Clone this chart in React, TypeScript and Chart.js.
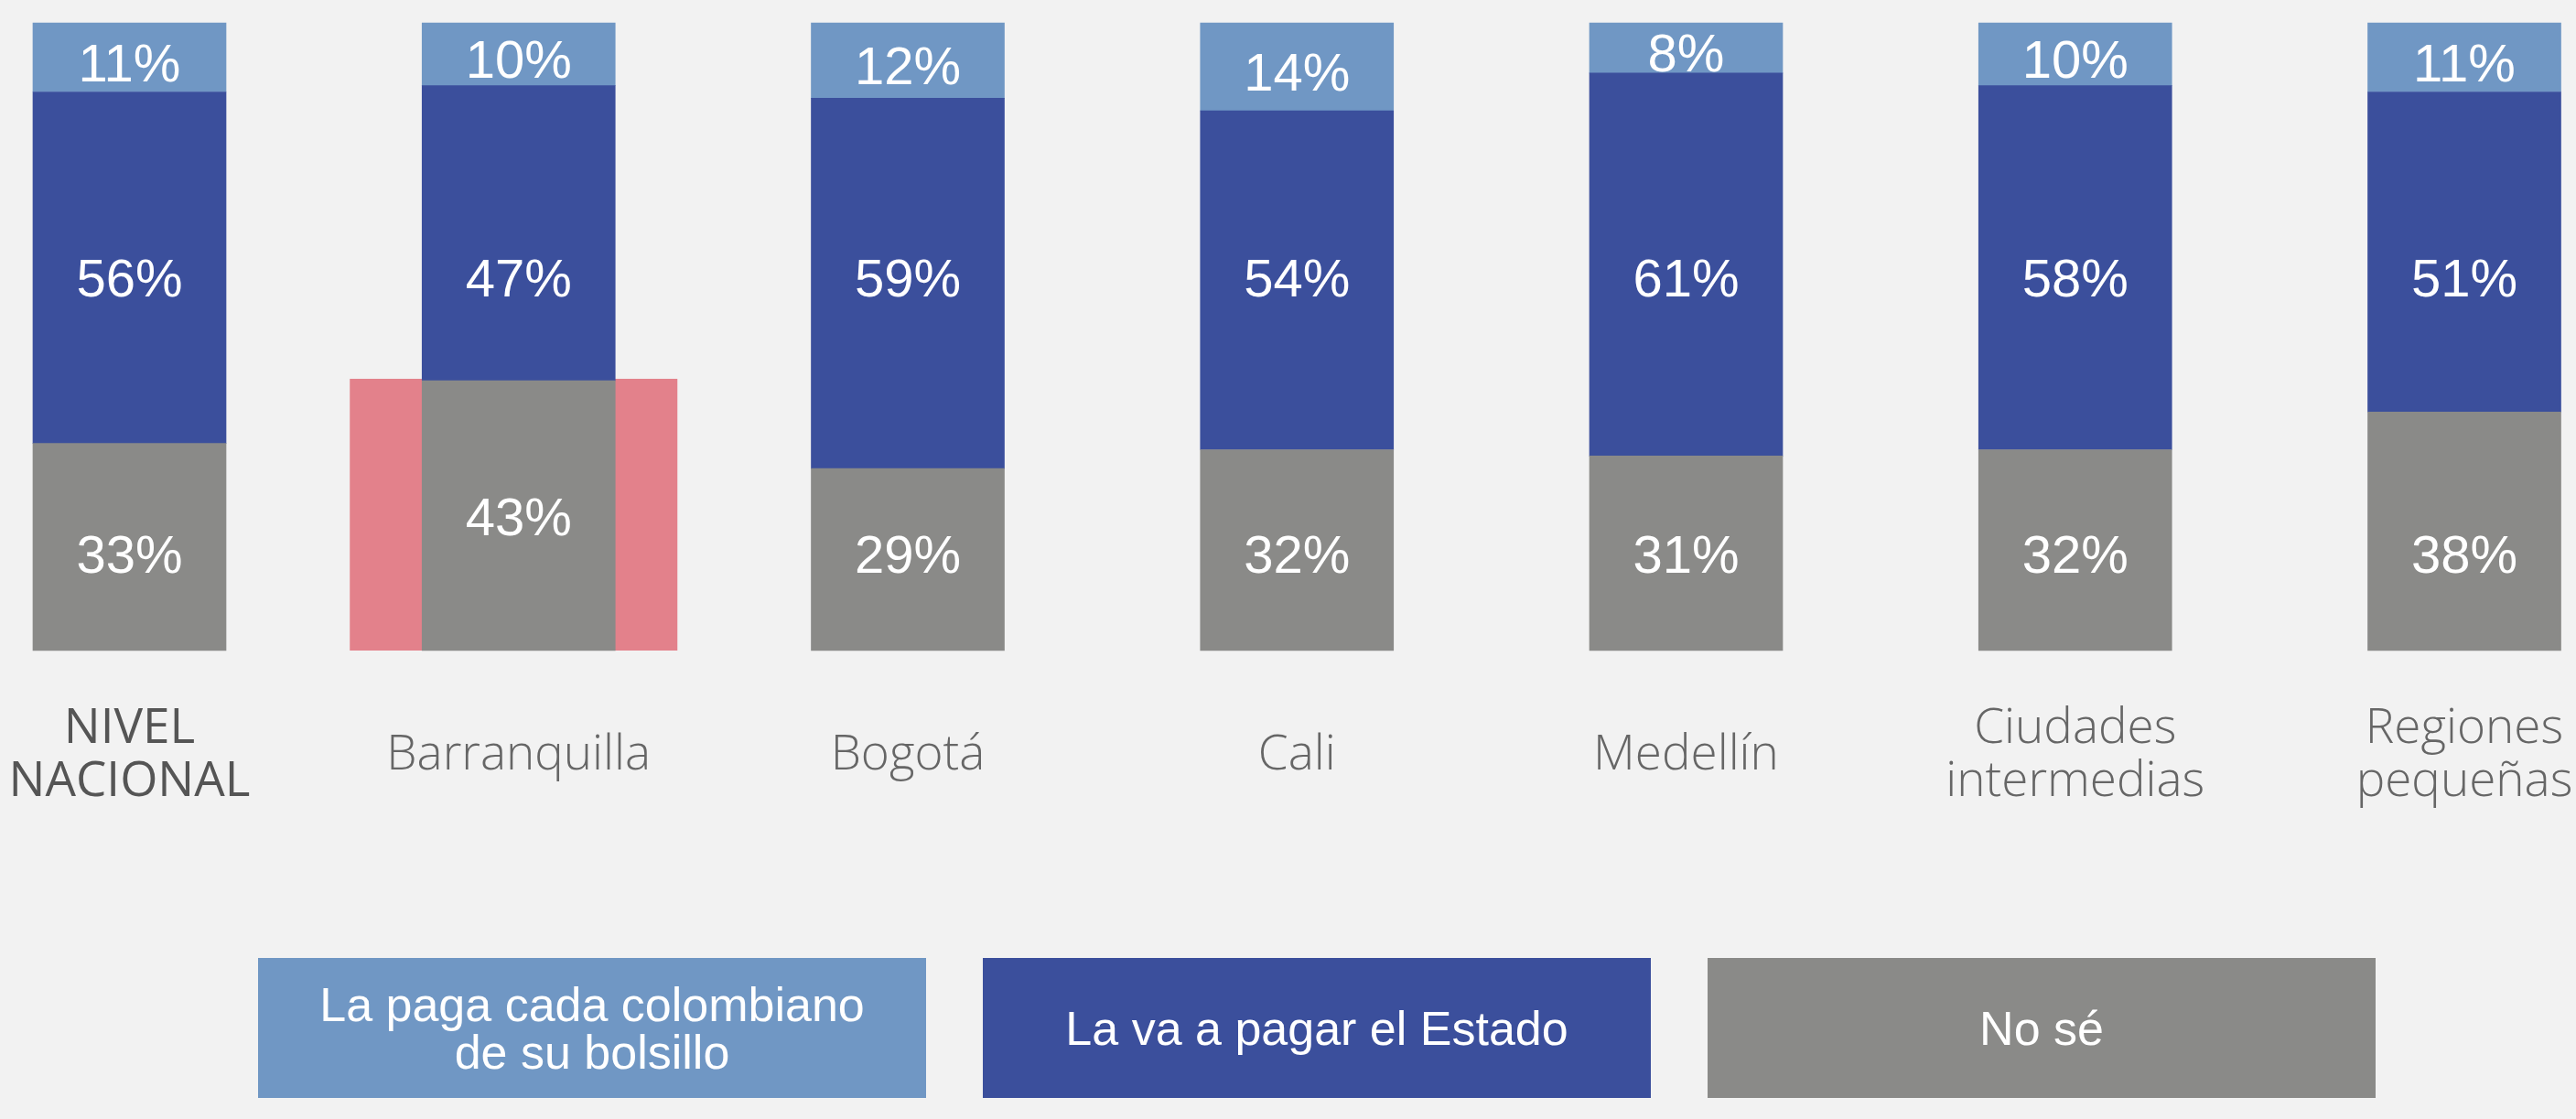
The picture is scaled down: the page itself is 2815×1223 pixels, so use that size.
import React, { useEffect, useRef } from "react";
import { Chart, registerables } from "chart.js";

Chart.register(...registerables);

// ---- data ----
const categories: (string | string[])[] = [
  ["NIVEL", "NACIONAL"],
  "Barranquilla",
  "Bogotá",
  "Cali",
  "Medellín",
  ["Ciudades", "intermedias"],
  ["Regiones", "pequeñas"],
];
const seriesNames = [
  "La paga cada colombiano\nde su bolsillo",
  "La va a pagar el Estado",
  "No sé",
];
const bolsillo = [11, 10, 12, 14, 8, 10, 11];
const estado = [56, 47, 59, 54, 61, 58, 51];
const noSe = [33, 43, 29, 32, 31, 32, 38];
const highlightIndex = 1;

// ---- styles ----
const C_BOLSILLO = "#7097C4";
const C_ESTADO = "#3B4F9C";
const C_NOSE = "#8A8A88";
const C_HIGHLIGHT = "#E3818B";
const BG = "#F2F2F2";

// label anchor levels (in axis units) used for the middle / bottom labels
const MIDDLE_LABEL_LEVEL = 59.5;
const BOTTOM_LABEL_LEVEL = 15.5;
const LABEL_NUDGE = 5;

const highlightPlugin = {
  id: "highlight",
  beforeDatasetsDraw(chart: any) {
    const { ctx } = chart;
    const xs = chart.scales.x;
    const ys = chart.scales.y;
    const cx = xs.getPixelForValue(highlightIndex);
    const top = ys.getPixelForValue(noSe[highlightIndex]);
    const bottom = ys.getPixelForValue(0);
    ctx.save();
    ctx.fillStyle = C_HIGHLIGHT;
    ctx.fillRect(cx - 184.5, top - 2, 358, bottom - top + 2);
    ctx.restore();
  },
};

const valueLabelPlugin = {
  id: "valueLabels",
  afterDatasetsDraw(chart: any) {
    const { ctx } = chart;
    const ys = chart.scales.y;
    ctx.save();
    ctx.fillStyle = "#FFFFFF";
    ctx.font = "400 58px 'Liberation Sans'";
    ctx.textAlign = "center";
    ctx.textBaseline = "middle";
    chart.data.datasets.forEach((ds: any, di: number) => {
      const meta = chart.getDatasetMeta(di);
      meta.data.forEach((el: any, i: number) => {
        const p = el.getProps(["x", "y", "base"], true);
        let y = (p.y + p.base) / 2;
        if (di === 2) y += 5;
        else if (di === 1) y = ys.getPixelForValue(MIDDLE_LABEL_LEVEL);
        else if (di === 0 && i !== highlightIndex) y = ys.getPixelForValue(BOTTOM_LABEL_LEVEL);
        ctx.fillText(`${ds.data[i]}%`, p.x, y + LABEL_NUDGE);
      });
    });
    ctx.restore();
  },
};

export default function App() {
  const canvasRef = useRef<HTMLCanvasElement | null>(null);

  useEffect(() => {
    if (!canvasRef.current) return;
    const chart = new Chart(canvasRef.current, {
      type: "bar",
      data: {
        labels: categories as any,
        datasets: [
          { label: seriesNames[2], data: noSe, backgroundColor: C_NOSE },
          { label: seriesNames[1], data: estado, backgroundColor: C_ESTADO },
          { label: seriesNames[0], data: bolsillo, backgroundColor: C_BOLSILLO },
        ],
      },
      options: {
        animation: false,
        responsive: false,
        devicePixelRatio: 1,
        layout: { padding: { top: 25, left: 141.5, right: 122, bottom: 0 } },
        datasets: { bar: { barThickness: 211, clip: false as any, borderWidth: 0 } },
        plugins: { legend: { display: false }, tooltip: { enabled: false } },
        scales: {
          x: {
            stacked: true,
            offset: false,
            grid: { display: false, drawTicks: false },
            border: { display: false },
            ticks: {
              autoSkip: false,
              maxRotation: 0,
              minRotation: 0,
              padding: 86,
              crossAlign: "center",
              color: (c: any) => (c.index === 0 ? "#555555" : "#666666"),
              font: (c: any) =>
                c.index === 0
                  ? { family: "'Open Sans'", size: 53, weight: "400", lineHeight: 1.09 }
                  : { family: "'Open Sans'", size: 53, weight: "300", lineHeight: 1.09 },
            },
            afterFit(scale: any) {
              scale.height = 300;
              scale.paddingLeft = 0;
              scale.paddingRight = 0;
            },
          } as any,
          y: {
            stacked: true,
            display: false,
            min: 0,
            max: 100,
          },
        },
      },
      plugins: [highlightPlugin, valueLabelPlugin],
    });
    const fonts = [
      "300 53px 'Open Sans'",
      "400 53px 'Open Sans'",
      "400 58px 'Liberation Sans'",
    ];
    Promise.all(fonts.map((f) => (document as any).fonts.load(f)))
      .then(() => chart.update())
      .catch(() => {});
    return () => chart.destroy();
  }, []);

  const legendItems = [
    { text: seriesNames[0], color: C_BOLSILLO },
    { text: seriesNames[1], color: C_ESTADO },
    { text: seriesNames[2], color: C_NOSE },
  ];

  return (
    <div
      style={{
        position: "fixed",
        left: 0,
        top: 0,
        width: 2815,
        height: 1223,
        background: BG,
        overflow: "hidden",
      }}
    >
      <canvas
        ref={canvasRef}
        width={2815}
        height={1011}
        style={{ position: "absolute", left: 0, top: 0, width: 2815, height: 1011 }}
      />
      <div
        style={{
          position: "absolute",
          left: 282,
          top: 1047,
          display: "flex",
          gap: 62,
        }}
      >
        {legendItems.map((it, i) => (
          <div
            key={i}
            style={{
              width: 730,
              height: 153,
              background: it.color,
              color: "#FFFFFF",
              display: "flex",
              alignItems: "center",
              justifyContent: "center",
              textAlign: "center",
              whiteSpace: "pre-line",
              fontFamily: "'Liberation Sans', Arial, sans-serif",
              fontSize: 52,
              lineHeight: "52px",
            }}
          >
            {it.text}
          </div>
        ))}
      </div>
    </div>
  );
}
